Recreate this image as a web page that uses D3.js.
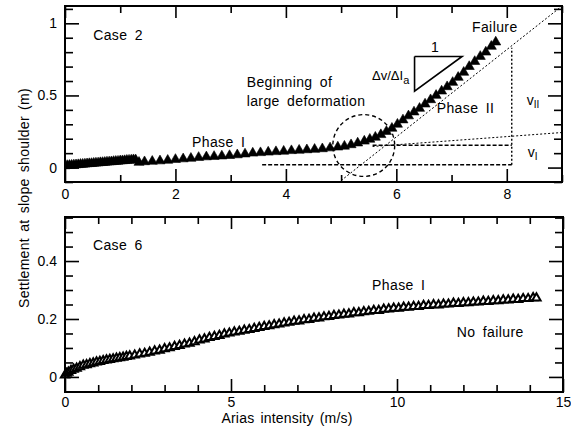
<!DOCTYPE html>
<html>
<head>
<meta charset="utf-8">
<script src="https://cdn.jsdelivr.net/npm/d3@7"></script>
<style>
body { margin: 0; background: #fff; }
text { font-family: "Liberation Sans", Arial, sans-serif; }
</style>
</head>
<body>
<svg id="chart" width="571" height="433"></svg>
<script>
// Case 2 - arias intensity (m/s) vs settlement (m)
const case2X = [0, 0.04, 0.08, 0.12, 0.16, 0.2, 0.24, 0.28, 0.32, 0.36, 0.4, 0.44, 0.48, 0.52, 0.56, 0.6,
    0.64, 0.68, 0.72, 0.76, 0.8, 0.84, 0.88, 0.92, 0.96, 1.0, 1.04, 1.08, 1.12, 1.16, 1.2, 1.24, 1.28,
    1.34, 1.44, 1.58, 1.72, 1.86, 2.0, 2.14, 2.28, 2.42, 2.56, 2.7, 2.84, 2.98, 3.12, 3.26, 3.4, 3.54,
    3.68, 3.82, 3.96, 4.1, 4.24, 4.38, 4.52, 4.66, 4.8, 4.94, 5.06, 5.18, 5.3, 5.42, 5.52, 5.62, 5.72,
    5.82, 5.92, 6.02, 6.12, 6.22, 6.32, 6.42, 6.52, 6.62, 6.72, 6.82, 6.92, 7.02, 7.12, 7.22, 7.32,
    7.42, 7.52, 7.62, 7.72, 7.8];
const case2Y = [0.012, 0.014, 0.015, 0.016, 0.018, 0.019, 0.02, 0.022, 0.023, 0.024, 0.026, 0.027, 0.028,
    0.03, 0.031, 0.032, 0.034, 0.035, 0.036, 0.038, 0.039, 0.04, 0.042, 0.043, 0.044, 0.046, 0.047, 0.048,
    0.05, 0.051, 0.052, 0.054, 0.053,
    0.036, 0.04, 0.043, 0.046, 0.05, 0.056, 0.06, 0.064, 0.07, 0.074, 0.077, 0.08, 0.083, 0.088, 0.094,
    0.1, 0.103, 0.107, 0.11, 0.113, 0.117, 0.12, 0.123, 0.126, 0.13, 0.136, 0.142, 0.148, 0.158, 0.17,
    0.183, 0.196, 0.21, 0.228, 0.25, 0.272, 0.3, 0.33, 0.358, 0.385, 0.41, 0.44, 0.47, 0.5, 0.53, 0.56,
    0.59, 0.625, 0.66, 0.7, 0.735, 0.77, 0.8, 0.84, 0.87];

// Case 6
const case6X = [0, 0.05, 0.1, 0.18, 0.26, 0.35, 0.45, 0.55, 0.65, 0.75, 0.85, 0.95, 1.05, 1.15, 1.25,
    1.35, 1.45, 1.55, 1.65, 1.75, 1.85, 1.95,
    2.1, 2.25, 2.4, 2.55, 2.7, 2.85, 3.0, 3.15, 3.3, 3.45, 3.6, 3.75, 3.9, 4.05, 4.2, 4.35, 4.5, 4.65,
    4.8, 4.95, 5.1, 5.25, 5.4, 5.55, 5.7, 5.85, 6.0, 6.15, 6.3, 6.45, 6.6, 6.75, 6.9, 7.05, 7.2, 7.35,
    7.5, 7.65, 7.8, 7.95, 8.1, 8.25, 8.4, 8.55, 8.7, 8.85, 9.0, 9.15, 9.3, 9.45, 9.6, 9.75, 9.9, 10.05,
    10.2, 10.35, 10.5, 10.65, 10.8, 10.95, 11.1, 11.25, 11.4, 11.55, 11.7, 11.85, 12.0, 12.15, 12.3,
    12.45, 12.6, 12.75, 12.9, 13.05, 13.2, 13.35, 13.5, 13.65, 13.8, 13.95, 14.1, 14.2];
const case6Y = [0.006, 0.012, 0.016, 0.022, 0.026, 0.03, 0.035, 0.04, 0.042, 0.045, 0.048, 0.051, 0.053,
    0.056, 0.058, 0.06, 0.062, 0.064, 0.066, 0.068, 0.07, 0.072,
    0.075, 0.079, 0.081, 0.085, 0.089, 0.092, 0.097, 0.1, 0.105, 0.108, 0.113, 0.116, 0.121, 0.127,
    0.131, 0.136, 0.139, 0.143, 0.148, 0.151, 0.155, 0.157, 0.161, 0.163, 0.167, 0.17, 0.174, 0.176,
    0.18, 0.182, 0.186, 0.188, 0.192, 0.193, 0.197, 0.198, 0.202, 0.203, 0.207, 0.208, 0.212, 0.213,
    0.216, 0.217, 0.221, 0.221, 0.225, 0.226, 0.229, 0.229, 0.233, 0.234, 0.237, 0.237, 0.24, 0.24,
    0.243, 0.243, 0.246, 0.246, 0.249, 0.248, 0.251, 0.251, 0.254, 0.253, 0.256, 0.256, 0.258, 0.258,
    0.261, 0.26, 0.263, 0.263, 0.265, 0.265, 0.268, 0.267, 0.27, 0.27, 0.273, 0.272];

// tick values
const top_xMajor = [0, 2, 4, 6, 8];
const top_xMinor = [1, 3, 5, 7, 9];
const top_yMajor = [0, 0.5, 1];
const top_yMinor = [-0.1, 0.1, 0.2, 0.3, 0.4, 0.6, 0.7, 0.8, 0.9, 1.1];
const bot_xMajor = [0, 5, 10, 15];
const bot_xMinor = [1, 2, 3, 4, 6, 7, 8, 9, 11, 12, 13, 14];
const bot_yMajor = [0, 0.2, 0.4];
const bot_yMinor = [-0.05, 0.05, 0.1, 0.15, 0.25, 0.3, 0.35, 0.45, 0.5, 0.55];

// reference lines drawn on case 2 (data units)
const phase2Ext = [[5.0, -0.09], [9.0, 1.12]];
const phase1Ext = [[5.57, 0.146], [9.0, 0.243]];
const vIUpper = [[5.57, 0.155], [8.09, 0.155]];
const vILower = [[3.57, 0.02], [8.09, 0.02]];
const vIIVert = [[8.09, 0.02], [8.09, 0.83]];
const slopeTri = [[6.33, 0.77], [7.19, 0.77], [6.33, 0.53], [6.33, 0.77]];

const svg = d3.select("#chart");
const font = '"Liberation Sans", Arial, sans-serif';

const x1 = d3.scaleLinear().domain([0, 9]).range([65, 562]);
const y1 = d3.scaleLinear().domain([-0.1, 1.12]).range([182, 6]);
const x2 = d3.scaleLinear().domain([0, 15]).range([65, 563]);
const y2 = d3.scaleLinear().domain([-0.052, 0.552]).range([392, 217]);

function frame(x, y, xMajor, xMinor, yMajor, yMinor, pad) {
    const [l, r] = x.range();
    const [b, t] = y.range();
    const g = svg.append("g");
    const add = (axis, tr) => {
        const a = g.append("g").attr("transform", tr).call(axis);
        a.select(".domain").remove();
        a.selectAll("line").attr("stroke-width", 1.6);
        a.selectAll("text").attr("font-size", 14).attr("font-family", font).attr("fill", "#000");
    };
    add(d3.axisBottom(x).tickValues(xMinor).tickSize(-7).tickFormat(""), `translate(0,${b})`);
    add(d3.axisTop(x).tickValues(xMinor).tickSize(-7).tickFormat(""), `translate(0,${t})`);
    add(d3.axisLeft(y).tickValues(yMinor).tickSize(-8).tickFormat(""), `translate(${l},0)`);
    add(d3.axisRight(y).tickValues(yMinor).tickSize(-8).tickFormat(""), `translate(${r},0)`);
    add(d3.axisBottom(x).tickValues(xMajor).tickSize(-13).tickPadding(pad).tickFormat(d3.format("")), `translate(0,${b})`);
    add(d3.axisTop(x).tickValues(xMajor).tickSize(-12).tickFormat(""), `translate(0,${t})`);
    add(d3.axisLeft(y).tickValues(yMajor).tickSize(-14).tickPadding(8).tickFormat(d3.format("")), `translate(${l},0)`);
    add(d3.axisRight(y).tickValues(yMajor).tickSize(-14).tickFormat(""), `translate(${r},0)`);
    g.append("rect")
        .attr("x", l).attr("y", t)
        .attr("width", r - l).attr("height", b - t)
        .attr("fill", "none").attr("stroke", "#000").attr("stroke-width", 2);
    return g;
}

// ---- top panel: case 2
svg.append("clipPath").attr("id", "clipTop")
    .append("rect").attr("x", 65).attr("y", 6).attr("width", 497).attr("height", 176);

const topPanel = svg.append("g").attr("clip-path", "url(#clipTop)");
const line1 = d3.line().x(d => x1(d[0])).y(d => y1(d[1]));

topPanel.append("path").attr("d", line1(phase2Ext))
    .attr("fill", "none").attr("stroke", "#000").attr("stroke-width", 1).attr("stroke-dasharray", "2,2");
topPanel.append("path").attr("d", line1(phase1Ext))
    .attr("fill", "none").attr("stroke", "#000").attr("stroke-width", 1).attr("stroke-dasharray", "2,2");
topPanel.append("path").attr("d", line1(vIUpper))
    .attr("fill", "none").attr("stroke", "#000").attr("stroke-width", 1.4).attr("stroke-dasharray", "4,2");
topPanel.append("path").attr("d", line1(vILower))
    .attr("fill", "none").attr("stroke", "#000").attr("stroke-width", 1.4).attr("stroke-dasharray", "4,2");
topPanel.append("path").attr("d", line1(vIIVert))
    .attr("fill", "none").attr("stroke", "#000").attr("stroke-width", 1.4).attr("stroke-dasharray", "2,2");
topPanel.append("circle")
    .attr("cx", x1(5.41)).attr("cy", y1(0.153))
    .attr("r", x1(5.97) - x1(5.41))
    .attr("fill", "none").attr("stroke", "#000").attr("stroke-width", 1.4).attr("stroke-dasharray", "4,3");
topPanel.append("path").attr("d", line1(slopeTri))
    .attr("fill", "none").attr("stroke", "#000").attr("stroke-width", 1.6);

const tri = d3.symbol().type(d3.symbolTriangle);
topPanel.selectAll(".c2")
    .data(case2X.map((v, i) => [v, case2Y[i]]))
    .enter()
    .append("path")
    .attr("class", "c2")
    .attr("d", tri.size(44)())
    .attr("transform", d => `translate(${x1(d[0])},${y1(d[1])})`)
    .attr("fill", "#000")
    .attr("stroke", "#000")
    .attr("stroke-width", 0.6);

frame(x1, y1, top_xMajor, top_xMinor, top_yMajor, top_yMinor, 7);

function label(g, txt, x, y, size) {
    return g.append("text")
        .attr("x", x).attr("y", y)
        .attr("font-size", size || 14)
        .attr("letter-spacing", 0.4)
        .attr("word-spacing", 3)
        .attr("fill", "#000")
        .text(txt);
}

label(svg, "Case 2", x1(0.51), y1(0.884));
label(svg, "Phase I", x1(2.3), y1(0.143));
label(svg, "Beginning of", x1(3.29), y1(0.559));
label(svg, "large deformation", x1(3.29), y1(0.427));
label(svg, "Failure", x1(7.37), y1(0.94));
label(svg, "1", x1(6.7), y1(0.80)).attr("text-anchor", "middle");
label(svg, "Phase II", x1(6.73), y1(0.378));

const dv = label(svg, "Δv/ΔI", x1(5.56), y1(0.607), 13).attr("letter-spacing", 0);
dv.append("tspan").attr("dy", 4).attr("font-size", 11).text("a");
const vii = label(svg, "v", x1(8.36), y1(0.434)).attr("letter-spacing", 0);
vii.append("tspan").attr("dy", 3).attr("font-size", 10).text("II");
const vi = label(svg, "v", x1(8.38), y1(0.073)).attr("letter-spacing", 0);
vi.append("tspan").attr("dy", 3).attr("font-size", 10).text("I");

// ---- bottom panel: case 6
const botPanel = svg.append("g");
botPanel.selectAll(".c6")
    .data(case6X.map((v, i) => [v, case6Y[i]]))
    .enter()
    .append("path")
    .attr("class", "c6")
    .attr("d", tri.size(30)())
    .attr("transform", d => `translate(${x2(d[0])},${y2(d[1])})`)
    .attr("fill", "#fff")
    .attr("stroke", "#000")
    .attr("stroke-width", 2);

frame(x2, y2, bot_xMajor, bot_xMinor, bot_yMajor, bot_yMinor, 5);

label(svg, "Case 6", x2(0.84), y2(0.438));
label(svg, "Phase I", x2(9.25), y2(0.30));
label(svg, "No failure", x2(11.8), y2(0.138));

// axis titles
svg.append("text")
    .attr("transform", "translate(29,198) rotate(-90)")
    .attr("text-anchor", "middle")
    .attr("font-size", 14)
    .attr("letter-spacing", 0.3)
    .attr("word-spacing", 2)
    .text("Settlement at slope shoulder (m)");

svg.append("text")
    .attr("x", 287).attr("y", 423)
    .attr("text-anchor", "middle")
    .attr("font-size", 14)
    .attr("letter-spacing", 0.2)
    .attr("word-spacing", 2)
    .text("Arias intensity (m/s)");
</script>
</body>
</html>
